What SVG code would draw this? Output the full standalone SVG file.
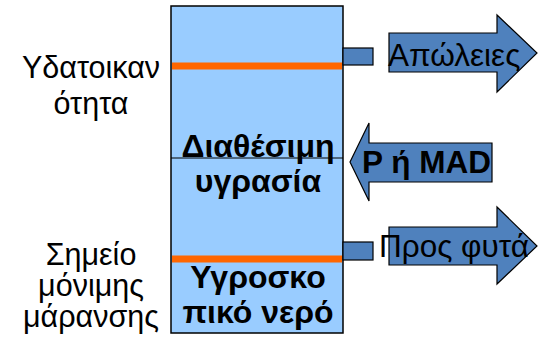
<svg xmlns="http://www.w3.org/2000/svg" width="549" height="353" viewBox="0 0 549 353">
<style>
.lbl{font-family:"Liberation Sans",Arial,sans-serif;fill:#000}
.side{font-size:30.5px;text-anchor:middle}
.bold{font-weight:bold;text-anchor:middle;font-size:32px}
.arr{fill:#4F81BD;stroke:#000;stroke-width:1.2}
.orange{stroke:#FF6600;stroke-width:7}
</style>
<rect width="549" height="353" fill="#fff"/>
<g id="column">
<rect x="171" y="6" width="172" height="327" fill="#99CCFF" stroke="#000" stroke-width="1.5"/>
<line x1="171" y1="158" x2="343" y2="158" stroke="#000" stroke-width="1.2"/>
<line class="orange" x1="172" y1="66" x2="342" y2="66"/>
<line class="orange" x1="172" y1="259" x2="342" y2="259"/>
<text class="lbl bold" x="258" y="157">Διαθέσιμη</text>
<text class="lbl bold" x="258" y="192">υγρασία</text>
<text class="lbl bold" x="258" y="288">Υγροσκο</text>
<text class="lbl bold" x="258" y="323">πικό νερό</text>
</g>
<g id="left-labels">
<text class="lbl side" x="91" y="78">Υδατοικαν</text>
<text class="lbl side" x="91" y="114">ότητα</text>
<text class="lbl side" x="91" y="265">Σημείο</text>
<text class="lbl side" x="91" y="296">μόνιμης</text>
<text class="lbl side" x="91" y="327">μάρανσης</text>
</g>
<g id="connectors">
<rect class="arr" x="343" y="48" width="30" height="17"/>
<rect class="arr" x="343" y="242" width="30" height="18"/>
</g>
<g id="losses">
<path class="arr" d="M389,33 H497 V15 L537,53 L497,92 V72 H389 Z"/>
<text class="lbl" x="388" y="66" font-size="31.5">Απώλειες</text>
</g>
<g id="pmad">
<path class="arr" d="M350,162 L369,123 V143 H492 V182 H369 V201 Z"/>
<text class="lbl" x="362" y="173" font-size="31.5" font-weight="bold">P ή MAD</text>
</g>
<g id="toplants">
<path class="arr" d="M389,227 H497 V207 L537,246 L497,284 V265 H389 Z"/>
<text class="lbl" x="379" y="257" font-size="31.5">Προς φυτά</text>
</g>
</svg>
